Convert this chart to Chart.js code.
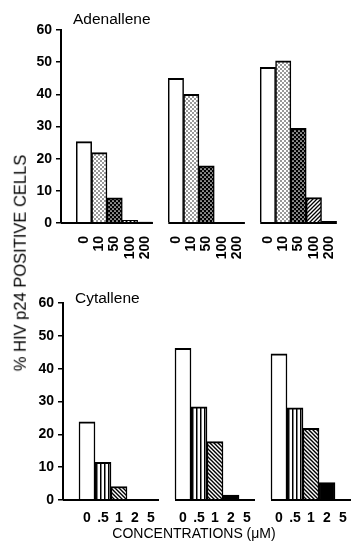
<!DOCTYPE html>
<html><head><meta charset="utf-8">
<script src="https://cdn.jsdelivr.net/npm/chart.js@4.4.0/dist/chart.umd.min.js"></script>
<style>
html,body{margin:0;padding:0;background:#fff;width:351px;height:545px;overflow:hidden;position:relative;font-family:"Liberation Sans",Arial,sans-serif;}
canvas{position:absolute;left:0;}
#c1{top:0}
#c2{top:265px}
.t{position:absolute;color:#000;white-space:nowrap;line-height:1;}
#yt{left:20px;top:263px;font-size:16.5px;transform:translate(-50%,-50%) rotate(-90deg);}
#xt{left:194px;top:533px;font-size:14px;transform:translate(-50%,-50%);}
</style></head><body>
<canvas id="c1" width="351" height="265"></canvas>
<canvas id="c2" width="351" height="280"></canvas>
<div class="t" style="left:73px;top:11px;font-size:15.5px;">Adenallene</div>
<div class="t" style="left:75px;top:290px;font-size:15.5px;">Cytallene</div>
<div class="t" id="yt">% HIV p24 POSITIVE CELLS</div>
<div class="t" id="xt">CONCENTRATIONS (μM)</div>
<script>
// ---- data ----
const adenConc = ['0', '10', '50', '100', '200'];
const adenExp1 = [25.3, 21.9, 7.8, 0.8, 0.3];
const adenExp2 = [45.0, 40.0, 17.8, 0, 0];
const adenExp3 = [48.4, 50.4, 29.4, 7.9, 0.5];

const cytConc = ['0', '.5', '1', '2', '5'];
const cytExp1 = [23.8, 11.5, 4.1, 0, 0];
const cytExp2 = [46.2, 28.4, 17.8, 1.5, 0];
const cytExp3 = [44.5, 28.1, 21.8, 5.3, 0];

const yMin = 0, yMax = 60, yStep = 10;

// ---- fills ----
function tile(w, h, draw) {
  const c = document.createElement('canvas'); c.width = w; c.height = h;
  const g = c.getContext('2d'); draw(g, w, h);
  return g.createPattern(c, 'repeat');
}
const fillWhite = '#ffffff';
const fillDots = tile(4, 4, g => {
  g.fillStyle = '#fff'; g.fillRect(0, 0, 4, 4); g.fillStyle = '#000';
  g.beginPath(); g.arc(1, 1, 0.75, 0, Math.PI * 2); g.fill();
  g.beginPath(); g.arc(3, 3, 0.75, 0, Math.PI * 2); g.fill();
});
const fillCross = tile(4, 4, g => {
  g.fillStyle = '#000'; g.fillRect(0, 0, 4, 4); g.fillStyle = '#fff';
  g.beginPath(); g.arc(1, 1, 0.85, 0, Math.PI * 2); g.fill();
  g.beginPath(); g.arc(3, 3, 0.85, 0, Math.PI * 2); g.fill();
});
const fillSlash = tile(4, 4, g => {
  g.fillStyle = '#fff'; g.fillRect(0, 0, 4, 4); g.strokeStyle = '#000'; g.lineWidth = 1.3;
  g.beginPath(); g.moveTo(-1, 5); g.lineTo(5, -1); g.moveTo(-1, 1); g.lineTo(1, -1); g.moveTo(3, 5); g.lineTo(5, 3); g.stroke();
});
const fillBackslash = tile(4, 4, g => {
  g.fillStyle = '#fff'; g.fillRect(0, 0, 4, 4); g.strokeStyle = '#000'; g.lineWidth = 1.4;
  g.beginPath(); g.moveTo(-1, -1); g.lineTo(5, 5); g.moveTo(-1, 3); g.lineTo(1, 5); g.moveTo(3, -1); g.lineTo(5, 1); g.stroke();
});
const fillVert = tile(4, 1, g => {
  g.fillStyle = '#fff'; g.fillRect(0, 0, 4, 1); g.fillStyle = '#000'; g.fillRect(0, 0, 1.5, 1);
});
const fillBlack = '#000000';

const adenFills = [fillWhite, fillDots, fillCross, fillSlash, fillBlack];
const cytFills = [fillWhite, fillVert, fillBackslash, fillBlack, fillBlack];

const baselinePlugin = {
  id: 'groupBaselines',
  afterDatasetsDraw(chart, args, opts) {
    const x = chart.scales.x, y = chart.scales.y, ctx = chart.ctx;
    const n = opts.groupSize + 1;
    const slot = (x.right - x.left) / x.ticks.length;
    const y0 = y.getPixelForValue(0);
    ctx.save(); ctx.strokeStyle = '#000'; ctx.lineWidth = 2;
    for (let g = 0; g < opts.groups; g++) {
      const first = g * n + 1, last = g * n + n - 1;
      const x1 = g === 0 ? chart.chartArea.left : x.getPixelForTick(first) - slot / 2;
      const x2 = x.getPixelForTick(last) + slot / 2;
      ctx.beginPath(); ctx.moveTo(x1, y0); ctx.lineTo(x2, y0); ctx.stroke();
    }
    ctx.restore();
  }
};

function makeChart(id, conc, exps, fills, cfg) {
  const labels = [], data = [], bg = [];
  exps.forEach(e => {
    labels.push(''); data.push(null); bg.push('rgba(0,0,0,0)');
    conc.forEach((c, i) => { labels.push(c); data.push(e[i]); bg.push(fills[i]); });
  });
  const tickFont = { family: '"Liberation Sans", Arial, sans-serif', size: 14, weight: 'bold' };
  return new Chart(document.getElementById(id), {
    type: 'bar',
    data: { labels, datasets: [{
      data, backgroundColor: bg, borderColor: '#000',
      borderWidth: { top: 2, left: 1.5, right: 1.5, bottom: 0 },
      categoryPercentage: 1, barPercentage: 1
    }] },
    options: {
      responsive: false, animation: false, devicePixelRatio: 1,
      layout: { padding: { top: cfg.top, left: 0, right: 0, bottom: 0 } },
      plugins: { legend: { display: false }, tooltip: { enabled: false },
        groupBaselines: { groupSize: conc.length, groups: exps.length } },
      scales: {
        x: {
          grid: { display: false }, border: { display: false },
          ticks: { color: '#000', font: tickFont, autoSkip: false,
            maxRotation: cfg.rot, minRotation: cfg.rot, padding: cfg.tickPad },
          afterFit(s) { s.height = cfg.xh; }
        },
        y: {
          min: yMin, max: yMax,
          ticks: { stepSize: yStep, color: '#000', font: tickFont, padding: 4 },
          grid: { drawOnChartArea: false, drawTicks: true, tickLength: 5, color: '#000', lineWidth: 1.5 },
          border: { display: true, color: '#000', width: 2 },
          afterFit(s) { s.width = cfg.left; }
        }
      }
    },
    plugins: [baselinePlugin]
  });
}

makeChart('c1', adenConc, [adenExp1, adenExp2, adenExp3], adenFills,
  { top: 30, xh: 42, left: 61, rot: 90, tickPad: 5 });
makeChart('c2', cytConc, [cytExp1, cytExp2, cytExp3], cytFills,
  { top: 38, xh: 45, left: 63, rot: 0, tickPad: 2 });
</script>
</body></html>
